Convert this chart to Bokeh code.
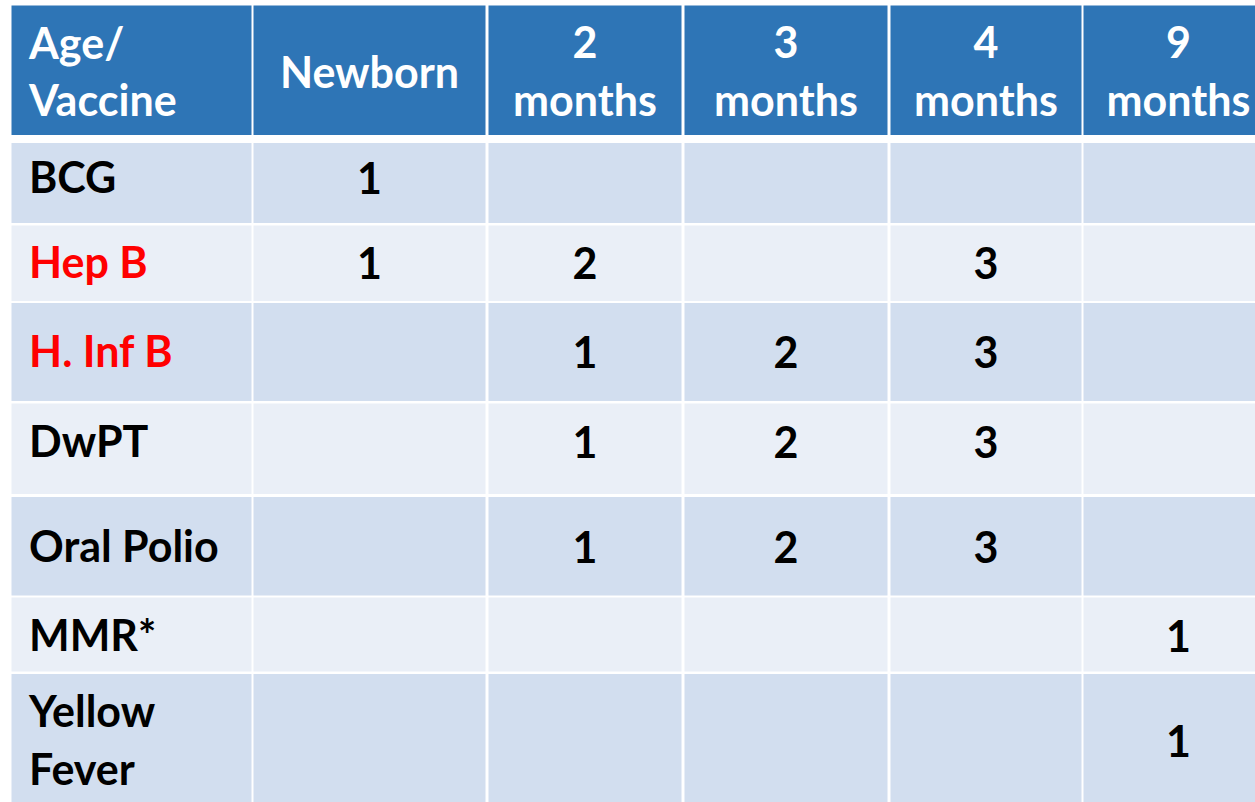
from bokeh.plotting import figure
from bokeh.models import Range1d
from bokeh.embed import file_html
from bokeh.resources import INLINE
from bokeh.core.properties import value

# ---------------- data ----------------
columns = ["Age/\nVaccine", "Newborn", "2\nmonths", "3\nmonths", "4\nmonths", "9\nmonths"]
vaccines = ["BCG", "Hep B", "H. Inf B", "DwPT", "Oral Polio", "MMR*", "Yellow\nFever"]
red_vaccines = ["Hep B", "H. Inf B"]
doses = [
    ["1", "", "", "", ""],
    ["1", "2", "", "3", ""],
    ["", "1", "2", "3", ""],
    ["", "1", "2", "3", ""],
    ["", "1", "2", "3", ""],
    ["", "", "", "", "1"],
    ["", "", "", "", "1"],
]

# ---------------- layout (page pixels) ----------------
col_left = [11, 253, 488, 684, 890, 1083]
col_right = [251, 485, 681, 887, 1081, 1273]
head_top, head_bottom = 5, 134.5
row_top = [142.5, 225, 302.5, 403, 496.5, 597, 673.5]
row_bottom = [222.5, 300.5, 400.5, 493.5, 595, 671, 812]
head_base = 87.5
row_base = [193, 278, 367, 457, 562, 651, 756]
line_gap = 57.5
label_x = 28.5
text_shift = -17  # renderer places the alphabetic baseline lower than requested

HEAD = "#2E75B6"
DARK = "#D2DEEF"
LIGHT = "#EAEFF7"
FONT = "Lato"
SIZE = "43px"

p = figure(width=1255, height=802, x_range=Range1d(0, 1255), y_range=Range1d(802, 0),
           output_backend="svg", toolbar_location=None, min_border=0)
p.axis.visible = False
p.grid.visible = False
p.outline_line_color = None
p.background_fill_color = "white"
p.border_fill_color = "white"

# cells
L, R, T, B, C = [], [], [], [], []
for j in range(len(columns)):
    L.append(col_left[j]); R.append(col_right[j]); T.append(head_top); B.append(head_bottom); C.append(HEAD)
for i in range(len(vaccines)):
    for j in range(len(columns)):
        L.append(col_left[j]); R.append(col_right[j]); T.append(row_top[i]); B.append(row_bottom[i])
        C.append(DARK if i % 2 == 0 else LIGHT)
p.quad(left=L, right=R, top=T, bottom=B, fill_color=C, line_color=None)


def lines_at(text, base):
    parts = text.split("\n")
    n = len(parts)
    return [(s, base + text_shift + (k - (n - 1) / 2) * line_gap) for k, s in enumerate(parts)]


# header texts
hx, hy, ht, ha = [], [], [], []
for j, name in enumerate(columns):
    for s, y in lines_at(name, head_base):
        if j == 0:
            hx.append(label_x); ha.append("left")
        else:
            hx.append((col_left[j] + col_right[j]) / 2); ha.append("center")
        hy.append(y); ht.append(s)
p.text(x=hx, y=hy, text=ht, text_align=ha, text_baseline="alphabetic",
       text_color="white", text_font=value(FONT), text_font_style="bold", text_font_size=SIZE)

# row labels
lx, ly, lt, lc = [], [], [], []
for i, name in enumerate(vaccines):
    for s, y in lines_at(name, row_base[i]):
        lx.append(label_x); ly.append(y); lt.append(s)
        lc.append("#FF0000" if name in red_vaccines else "black")
p.text(x=lx, y=ly, text=lt, text_color=lc, text_align="left", text_baseline="alphabetic",
       text_font=value(FONT), text_font_style="bold", text_font_size=SIZE)

# dose numbers
nx, ny, nt = [], [], []
for i, row in enumerate(doses):
    for j, d in enumerate(row):
        if d:
            nx.append((col_left[j + 1] + col_right[j + 1]) / 2)
            ny.append(row_base[i] + 1 + text_shift)
            nt.append(d)
p.text(x=nx, y=ny, text=nt, text_align="center", text_baseline="alphabetic",
       text_color="black", text_font=value(FONT), text_font_style="bold", text_font_size=SIZE)

open("out.html", "w").write(file_html(p, INLINE))
